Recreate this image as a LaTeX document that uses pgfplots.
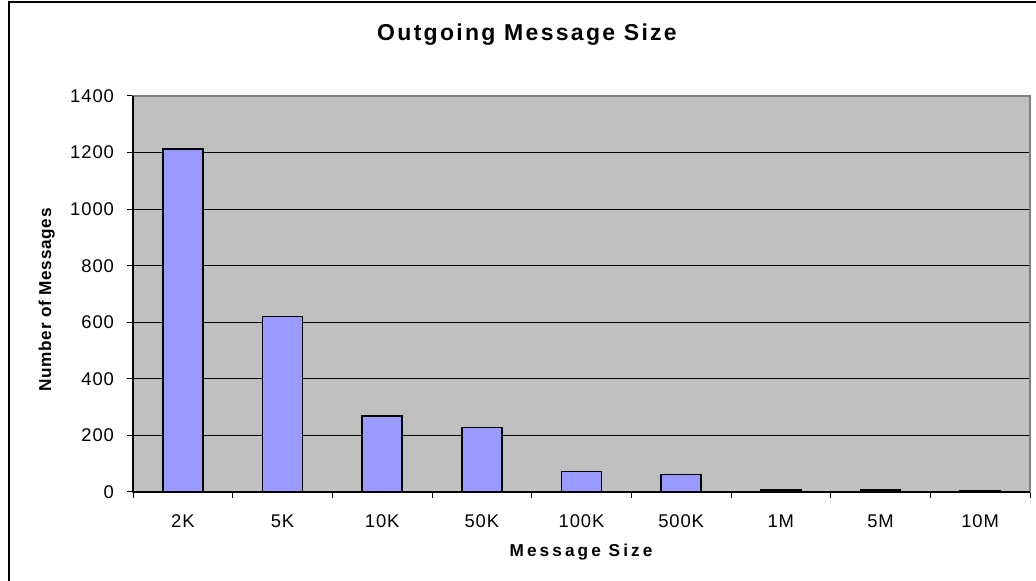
\documentclass[border=0pt]{standalone}
\usepackage{fontspec}
\setmainfont{Liberation Sans}
\usepackage{pgfplots}
\pgfplotsset{compat=1.18}
\definecolor{plotbg}{RGB}{192,192,192}
\definecolor{barfill}{RGB}{153,153,255}
\definecolor{frameg}{RGB}{128,128,128}
\newcommand{\tickfont}{\fontsize{9.2}{11}\selectfont\addfontfeature{LetterSpace=5}}
\newcommand{\xlabfont}{\bfseries\fontsize{8.6}{10}\selectfont\addfontfeature{LetterSpace=18}}
\newcommand{\ylabfont}{\bfseries\fontsize{8.6}{10}\selectfont\addfontfeature{LetterSpace=4}}
\newcommand{\titfont}{\bfseries\fontsize{11.5}{13}\selectfont\addfontfeature{LetterSpace=10}}
\begin{document}
\begin{tikzpicture}[x=0.5pt,y=0.5pt]
\path[use as bounding box] (0,0) rectangle (1036,581);
\draw[line width=1pt] (8.5,-10) -- (8.5,578.5) -- (1050,578.5);
\begin{axis}[
  at={(66.5pt,44.5pt)}, anchor=south west,
  scale only axis, width=448.5pt, height=198pt,
  xmin=-0.5, xmax=8.5, ymin=0, ymax=1400,
  ytick={0,200,...,1400},
  xtick={0,...,8},
  xticklabels={2K,5K,10K,50K,100K,500K,1M,5M,10M},
  major x tick style={draw=none},
  minor xtick={-0.5,0.5,...,8.5},
  minor tick length=3pt,
  major tick length=3pt,
  tick align=outside,
  tick style={black, line width=0.5pt},
  ymajorgrids, grid style={black, line width=0.5pt},
  axis background/.style={fill=plotbg},
  axis line style={draw=frameg, line width=0.8pt},
  ticklabel style={font=\tickfont},
  /pgf/number format/assume math mode=true,
  /pgf/number format/1000 sep={},
  xticklabel style={yshift=-5pt},
  yticklabel style={xshift=-3pt},
  xtick pos=bottom, ytick pos=left,
  clip=false,
]
\addplot[ybar, bar width=20pt, fill=barfill, draw=black, line width=0.8pt] coordinates {
 (0,1212) (1,620) (2,268) (3,228) (4,72) (5,62) (6,8) (7,8) (8,4)
};
\draw[black, line width=0.6pt] (axis cs:-0.5,0) -- (axis cs:-0.5,1400);
\draw[black, line width=0.6pt] (axis cs:-0.5,0) -- (axis cs:8.5,0);
\end{axis}
\node[font=\titfont, anchor=base] at (527,540) {Outgoing Message Size};
\node[font=\xlabfont, anchor=base] at (581,24) {Message Size};
\node[font=\ylabfont, rotate=90, anchor=base] at (51,281) {Number of Messages};
\end{tikzpicture}
\end{document}
